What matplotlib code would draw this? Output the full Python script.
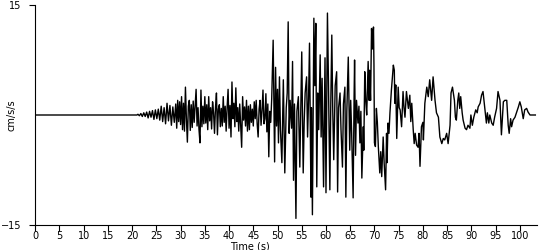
import numpy as np
import matplotlib
matplotlib.use("Agg")
import matplotlib.pyplot as plt

# digitised accelerogram (time in s, acceleration in cm/s/s)
time_s = [0.0, 21.0,
          21.2, 21.5, 21.8, 22.1, 22.4, 22.7, 23.0, 23.3, 23.6, 23.9, 24.2, 24.5, 24.8, 25.1, 25.4, 25.7,
          26.0, 26.3, 26.6, 26.9, 27.2, 27.5, 27.8, 28.1, 28.4, 28.7,
          29.0, 29.2, 29.4, 29.6, 29.8, 30.0, 30.2, 30.4, 30.6, 30.8, 31.0, 31.2, 31.4, 31.6, 31.8, 32.0,
          32.2, 32.4, 32.6, 32.8, 33.0, 33.2, 33.4, 33.6, 33.8, 34.0, 34.2, 34.4, 34.6, 34.8, 35.0, 35.2,
          35.4, 35.6, 35.8, 36.0, 36.2, 36.4, 36.6, 36.8, 37.0, 37.2, 37.4, 37.6, 37.8, 38.0, 38.2, 38.4,
          38.6, 38.8, 39.0, 39.2, 39.4, 39.6, 39.8, 40.0, 40.2, 40.4, 40.6, 40.8, 41.0, 41.2, 41.4, 41.6,
          41.8, 42.0, 42.2, 42.4, 42.6, 42.8, 43.0, 43.2, 43.4, 43.6, 43.8, 44.0, 44.2, 44.4, 44.6, 44.8,
          45.0, 45.2, 45.4, 45.6, 45.8, 46.0, 46.2, 46.4, 46.6, 46.8, 47.0, 47.2, 47.4, 47.6, 47.8, 48.0,
          48.2, 48.4, 48.6, 48.8,
          49.1, 49.4, 49.6, 49.8, 50.0, 50.2, 50.4, 50.6, 50.9, 51.2, 51.5, 51.8, 52.0, 52.2, 52.4, 52.6,
          52.9, 53.1, 53.3, 53.5, 53.8, 54.0, 54.3, 54.6, 54.8, 55.0, 55.3, 55.5, 55.7, 56.0, 56.2, 56.4,
          56.6, 56.9, 57.0, 57.2, 57.5, 57.7, 57.9, 58.1, 58.3, 58.5, 58.8, 59.0, 59.2, 59.5, 59.8, 60.0,
          60.3, 60.5, 60.8, 61.0, 61.2, 61.4, 61.6, 61.9, 62.2, 62.4, 62.6, 62.9, 63.1, 63.4, 63.6, 63.9,
          64.1, 64.3, 64.6, 64.9, 65.1, 65.3, 65.6, 65.8, 65.9, 66.1, 66.3, 66.6, 66.8, 67.0, 67.2, 67.4,
          67.7, 67.8, 68.0, 68.2, 68.4, 68.7, 68.9, 69.0, 69.2, 69.4, 69.6, 69.8, 69.9, 70.0, 70.2, 70.4,
          70.6, 70.8, 71.1, 71.3, 71.5, 71.8, 72.0, 72.3, 72.5, 72.6, 72.8, 73.0, 73.2, 73.5, 73.9, 74.1,
          74.2, 74.4, 74.6, 74.9, 75.1, 75.3, 75.6, 75.9, 76.1, 76.3, 76.6, 77.0, 77.3, 77.5, 77.7, 78.0,
          78.2, 78.4, 78.7, 79.0, 79.2, 79.4, 79.7, 80.0, 80.1, 80.4, 80.8, 81.1, 81.4, 81.8, 82.1,
          82.5, 82.8, 83.2, 83.5, 83.9, 84.2, 84.5, 84.9, 85.2, 85.6, 85.8, 86.1, 86.5, 86.7, 86.9, 87.2,
          87.4, 87.6, 87.8, 88.1, 88.3, 88.7, 89.0, 89.3, 89.7, 89.9, 90.2, 90.5, 90.9, 91.2, 91.4, 91.8,
          92.1, 92.4, 92.8, 93.1, 93.3, 93.6, 93.8, 94.2, 94.5, 94.8, 95.2, 95.5, 95.9, 96.2, 96.6, 96.9,
          97.3, 97.6, 97.8, 98.1, 98.3, 98.6, 99.0, 99.3, 99.7, 100.0, 100.3, 100.7, 101.0, 101.4, 101.7,
          102.1, 103.2]

accel = [0.0, 0.0,
         0.1, -0.1, 0.2, -0.2, 0.3, -0.2, 0.4, -0.4, 0.5, -0.3, 0.6, -0.6, 0.7, -0.5, 0.8, -0.7,
         1.2, -0.9, 1.0, -1.2, 1.6, -0.8, 1.3, -1.4, 1.1, -1.0,
         1.5, -1.8, 2.0, -0.9, 1.8, -1.3, 2.5, -2.0, 1.6, -2.2, 3.8, -0.5, -3.7, 1.2, 2.0, -2.1,
         1.4, -1.7, 1.9, -1.0, 1.2, 3.5, -1.5, 1.0, -2.0, -3.8, 3.4, -1.6, 1.2, -1.2, 2.5, -1.1,
         1.4, -2.0, 2.5, -0.8, 1.0, -1.9, 1.8, 0.3, -2.5, 1.0, 3.0, -2.7, 0.8, 1.4, -1.6, 0.9,
         -1.5, 2.5, -1.0, 1.2, -2.2, 1.0, 3.5, -1.8, 1.3, -3.0, 4.5, -0.5, 1.6, -1.6, 3.7, -0.9,
         1.0, -2.2, 1.5, -1.3, -4.4, 2.5, -0.7, 1.1, -1.5, 2.0, -2.2, 1.2, -2.0, 1.4, -1.0, 0.8,
         -1.5, 1.8, -0.5, 2.0, -1.2, -3.0, 0.8, 2.0, -1.4, 0.6, 3.4, -1.2, -0.5, 2.9, -2.3, 1.5,
         -5.7, 0.5, -1.0, 2.2,
         10.2, -6.4, 6.5, -1.5, 3.5, -3.8, 5.2, -2.0, -6.5, 4.8, -7.9, 1.0, 3.0, 12.7, -2.5, 2.0,
         -1.8, 7.3, -8.9, 1.5, -14.1, 0.5, 2.5, -7.1, 1.0, 8.6, -7.9, -1.0, 3.0, 5.2, -3.0, 2.0,
         9.8, -11.2, 1.0, -13.6, 13.2, 4.0, 12.5, -9.8, 3.0, -2.0, 8.2, -3.0, 5.0, -9.8, 7.8, -10.6,
         13.9, 5.0, -10.2, 2.0, 10.9, 0.5, -6.1, 4.0, 5.9, -10.5, 1.0, 3.0, -2.0, -7.1, 1.5, 3.8,
         -11.2, 0.5, 7.9, -4.8, 2.0, -2.5, -11.3, 2.5, 7.5, -5.5, 2.0, -1.1, 1.2, -3.8, 0.5, -8.6,
         -1.6, -4.8, 5.9, 2.0, 0.0, 7.3, 2.0, 6.1, 2.0, 11.8, 9.0, 12.0, 6.8, -3.8, -4.3, 0.9,
         -1.0, -4.3, -7.9, -5.0, -8.4, -3.0, -6.5, -10.2, -2.5, -6.5, -1.1, -2.5, 0.3, 3.4, 6.8, 6.1,
         1.6, 4.1, -3.2, 3.8, 1.0, 0.7, -1.6, 3.2, 1.0, -0.3, 3.2, 0.9, 2.7, -0.9, 1.6, -2.0,
         -3.9, -2.5, -4.1, -4.4, -2.5, -7.0, -1.6, -1.0, -3.4, 1.6, 3.8, 2.5, 4.8, 2.0, 5.2,
         2.0, 0.3, -0.3, -3.0, -3.9, -3.2, -3.4, -2.5, -3.9, -1.4, 3.0, 3.8, 2.0, -0.3, -0.7, 2.0,
         3.0, 0.9, 2.5, 0.3, -0.7, -1.8, -2.0, -1.4, -1.8, 0.0, -1.4, -0.3, 0.7, 0.3, 1.1, 1.6,
         2.7, 3.2, 0.7, -1.1, 0.3, -1.1, 0.0, -1.1, -1.4, -0.3, 0.9, 3.2, 2.0, -2.7, 1.8, 2.0,
         2.0, -1.4, -2.5, -0.5, -1.6, -0.7, -0.3, 0.3, 1.1, 1.8, 1.1, -0.5, 0.7, 0.9, 0.4,
         0.0, 0.0]

x_ticks = np.arange(0, 101, 5)
y_ticks = [-15, 15]

fig = plt.figure(figsize=(5.5, 2.5), dpi=100)
ax = fig.add_axes([0.064, 0.1, 0.912, 0.88])

ax.plot(time_s, accel, color="black", linewidth=1.0)

ax.set_xlim(0, 103.5)
ax.set_ylim(-15, 15)
ax.set_xticks(x_ticks)
ax.set_yticks(y_ticks)
ax.tick_params(axis="both", labelsize=7, direction="out", length=4, width=0.8, colors="black")
ax.tick_params(axis="x", pad=0.5)
ax.tick_params(axis="y", pad=6)

for side in ["top", "right"]:
    ax.spines[side].set_visible(False)
for side in ["left", "bottom"]:
    ax.spines[side].set_linewidth(0.8)

fig.text(12 / 550, 1 - 115 / 250, "cm/s/s", rotation=90, fontsize=7, ha="center", va="center")
fig.text(250 / 550, 1 - 246.5 / 250, "Time (s)", fontsize=7, ha="center", va="center")

fig.savefig("out.png", dpi=100)
